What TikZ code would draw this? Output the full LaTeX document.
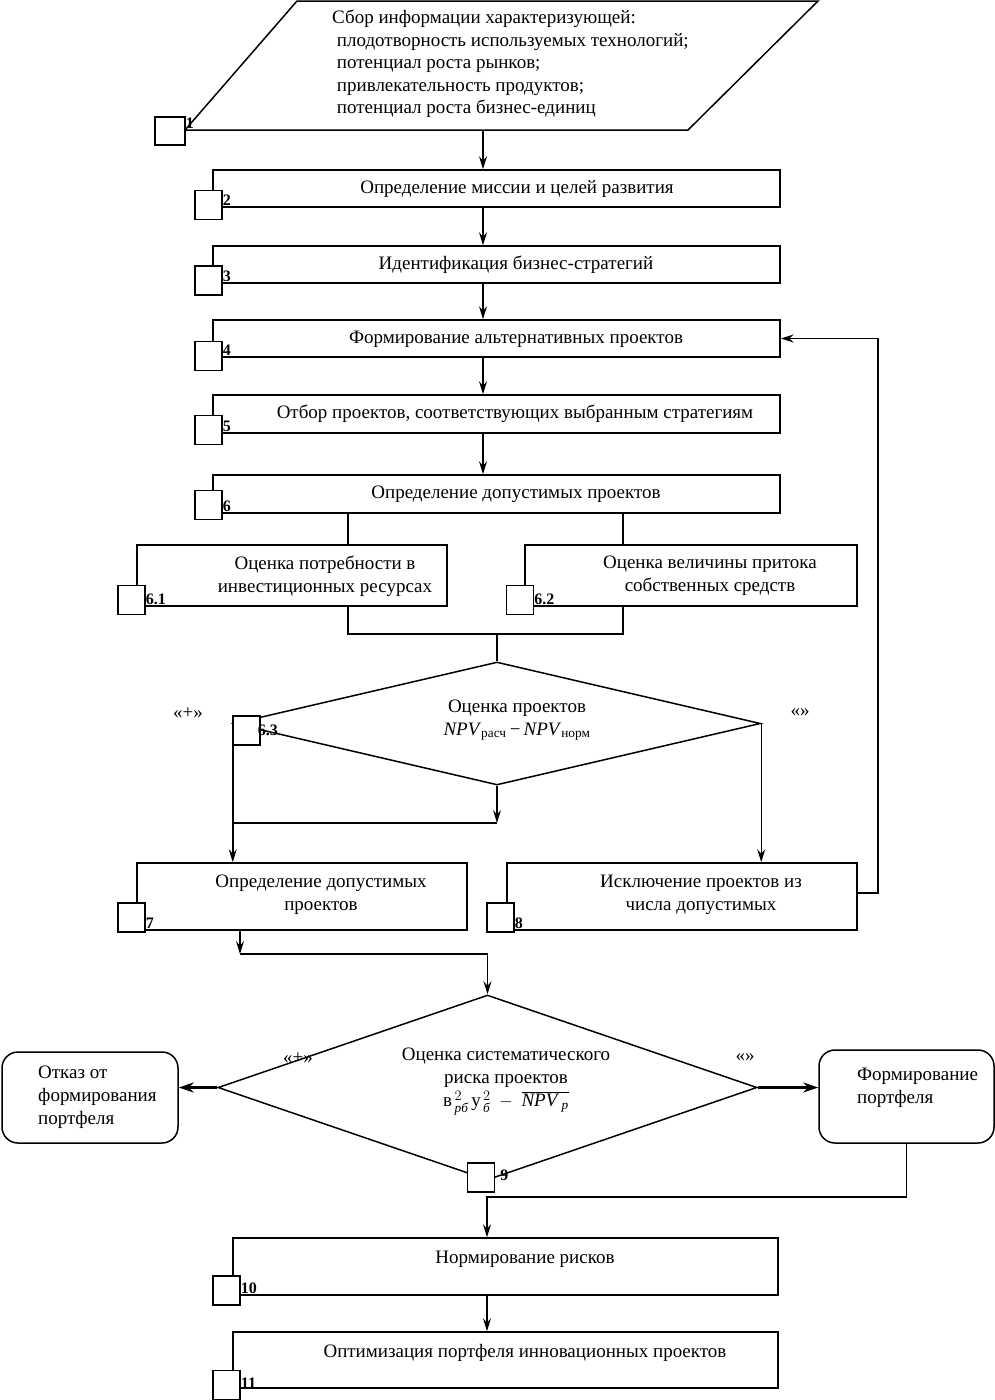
\documentclass[tikz,border=0pt]{standalone}
\usepackage{amsmath}
\usepackage{fontspec}
\setmainfont{Liberation Serif}
\usetikzlibrary{shapes.geometric, arrows.meta, positioning, calc}
\tikzset{
>={Stealth[length=13pt,width=8pt,inset=4.5pt]}, % narrow arrow heads
every node/.style={font=\fontsize{19}{23}\selectfont},
box/.style={draw, line width=1.5pt, inner sep=0pt}, % the process boxes
numsq/.style={draw, fill=white, line width=1.5pt, minimum width=27, minimum height=29, inner sep=0pt},
num/.style={font=\fontsize{16}{16}\selectfont\bfseries, inner sep=0pt, anchor=base west},
txt/.style={align=center, inner sep=0pt},
decide/.style={diamond, draw, line width=1.5pt, inner sep=0pt},
endbox/.style={draw, rounded corners=16pt, line width=1.5pt, inner sep=0pt},
link/.style={line width=1.5pt},
fat/.style={line width=3pt, -{Stealth[length=15pt,width=10pt,inset=5pt]}},
}

\begin{document}
\begin{tikzpicture}[x=1pt, y=-1pt]
\useasboundingbox (0,0) rectangle (995,1400);

% block 1: input data
\draw[link] (185,130) -- (297,1) -- (818,1) -- (688,130) -- cycle;
\coordinate (p1s) at (483,130);
\node[anchor=north west, align=left, inner sep=0pt, font=\fontsize{19}{22.5}\selectfont] (t1) at (332,10)
{Сбор информации характеризующей:\\
\ плодотворность используемых технологий;\\
\ потенциал роста рынков;\\
\ привлекательность продуктов;\\
\ потенциал роста бизнес-единиц};

% process boxes
\node[box, minimum width=567, minimum height=37] (b2) at (496.5,188.5) {};
\node[box, minimum width=567, minimum height=37] (b3) at (496.5,264.5) {};
\node[box, minimum width=567, minimum height=37] (b4) at (496.5,338.5) {};
\node[box, minimum width=567, minimum height=38] (b5) at (496.5,414) {};
\node[box, minimum width=567, minimum height=38] (b6) at (496.5,494) {};
\node[box, minimum width=310, minimum height=61] (b61) at (292,575.5) {};
\node[box, minimum width=332, minimum height=61] (b62) at (691,575.5) {};
\node[decide, minimum width=527, minimum height=123] (d63) at (497,723.5) {};
\node[box, minimum width=330, minimum height=67] (b7) at (302,896.5) {};
\node[box, minimum width=350, minimum height=67] (b8) at (682,896.5) {};
\node[decide, minimum width=539, minimum height=185] (d9) at (487.5,1087.5) {};
\node[endbox, minimum width=176, minimum height=91] (e1) at (90,1097.5) {};
\node[endbox, minimum width=175, minimum height=93] (e2) at (906.5,1096.5) {};
\node[box, minimum width=545, minimum height=57] (b10) at (505.5,1266.5) {};
\node[box, minimum width=545, minimum height=56] (b11) at (505.5,1360) {};

% texts
\node[txt] (t2) at (517,189) {Определение миссии и целей развития};
\node[txt] (t3) at (516,265) {Идентификация бизнес-стратегий};
\node[txt] (t4) at (516,339) {Формирование альтернативных проектов};
\node[txt] (t5) at (515,414) {Отбор проектов, соответствующих выбранным стратегиям};
\node[txt] (t6) at (516,494) {Определение допустимых проектов};
\node[txt] (t61) at (325,576) {Оценка потребности в\\инвестиционных ресурсах};
\node[txt] (t62) at (710,576) {Оценка величины притока\\собственных средств};
\node[txt] (t63) at (517,720) {Оценка проектов\\\textit{NPV}\textsubscript{расч}\,−\,\textit{NPV}\textsubscript{норм}};
\node[txt] (t7) at (321,895) {Определение допустимых\\проектов};
\node[txt] (t8) at (701,895) {Исключение проектов из\\числа допустимых};
\node[txt] (t9) at (506,1082) {Оценка систематического\\риска проектов\\
$\text{в}^{\,2}_{\,\textit{рб}}\,\text{у}^{\,2}_{\,\textit{б}}\;-\;\overline{\text{\textit{NPV}}_{\,\textit{р}}}$};
\node[anchor=west, align=left, inner sep=0pt] (te1) at (38,1097.5) {Отказ от\\формирования\\портфеля};
\node[anchor=west, align=left, inner sep=0pt] (te2) at (857,1087.5) {Формирование\\портфеля};
\node[txt] (t10) at (525,1259) {Нормирование рисков};
\node[txt] (t11) at (525,1353) {Оптимизация портфеля инновационных проектов};

% branch labels
\node (l63p) at (188,713) {«+»};
\node (l63m) at (800,713) {«»};
\node (l9p) at (298,1058) {«+»};
\node (l9m) at (745,1058) {«»};

% helper points of the connectors
\coordinate (j61) at (348,634);
\coordinate (j62) at (623,634);
\coordinate (j6) at (497,634);
\coordinate (j63) at (497,823);
\coordinate (j7) at (240,954);
\coordinate (j8) at (878,893);
\coordinate (j9) at (487,1197);

% connectors
\draw[link,->] (p1s) -- (p1s |- b2.north);
\draw[link,->] (b2.south -| p1s) -- (b3.north -| p1s);
\draw[link,->] (b3.south -| p1s) -- (b4.north -| p1s);
\draw[link,->] (b4.south -| p1s) -- (b5.north -| p1s);
\draw[link,->] (b5.south -| p1s) -- (b6.north -| p1s);
\draw[link] (b6.south -| j61) -- (b61.north -| j61);
\draw[link] (b6.south -| j62) -- (b62.north -| j62);
\draw[link] (b61.south -| j61) -- (j61) -- (j62) -- (b62.south -| j62);
\draw[link] (j6) -- (d63.north);
\draw[link,->] (d63.south) -- (j63);
\draw[link] (j63) -- (j63 -| d63.west);
\draw[link,->] (d63.west) -- (b7.north -| d63.west);
\draw[link,->] (d63.east) -- (b8.north -| d63.east);
\draw[link,->] (b8.east |- j8) -- (j8) |- (b4.east);
\draw[link,->] (b7.south -| j7) -- (j7);
\draw[link,->] (j7) -| (d9.north);
\draw[fat] (d9.west) -- (d9.west -| e1.east);
\draw[fat] (d9.east) -- (d9.east -| e2.west);
\draw[link,->] (e2.south) |- (j9) -- (j9 |- b10.north);
\draw[link,->] (b10.south -| j9) -- (b11.north -| j9);

% numbered squares
\node[numsq, minimum width=30, minimum height=28] (s1) at (170,131) {};
\node[numsq] (s2) at (208.5,205) {};
\node[numsq] (s3) at (208.5,280.5) {};
\node[numsq] (s4) at (208.5,356) {};
\node[numsq] (s5) at (208.5,430) {};
\node[numsq] (s6) at (208.5,505) {};
\node[numsq] (s61) at (131.5,600) {};
\node[numsq] (s62) at (520,600) {};
\node[numsq] (s63) at (246.5,730.5) {};
\node[numsq] (s7) at (131.5,917.5) {};
\node[numsq] (s8) at (500.5,917.5) {};
\node[numsq] (s9) at (481,1177.5) {};
\node[numsq] (s10) at (226.5,1290.5) {};
\node[numsq] (s11) at (226.5,1385) {};

\node[num] (n1) at ([yshift=2pt]s1.east |- p1s) {1};
\node[num] (n2) at ([yshift=2pt]s2.east |- b2.south) {2};
\node[num] (n3) at ([yshift=2pt]s3.east |- b3.south) {3};
\node[num] (n4) at ([yshift=2pt]s4.east |- b4.south) {4};
\node[num] (n5) at ([yshift=2pt]s5.east |- b5.south) {5};
\node[num] (n6) at ([yshift=2pt]s6.east |- b6.south) {6};
\node[num] (n61) at ([yshift=2pt]s61.east |- b61.south) {6.1};
\node[num] (n62) at ([yshift=2pt]s62.east |- b62.south) {6.2};
\node[num] (n63) at ([xshift=-3pt,yshift=-5pt]s63.east) {6.3};
\node[num] (n7) at ([yshift=2pt]s7.east |- b7.south) {7};
\node[num] (n8) at ([yshift=2pt]s8.east |- b8.south) {8};
\node[num] (n9) at ([xshift=5pt,yshift=-3pt]s9.east) {9};
\node[num] (n10) at ([yshift=2pt]s10.east |- b10.south) {10};
\node[num] (n11) at ([yshift=0pt]s11.east |- b11.south) {11};
\end{tikzpicture}
\end{document}
